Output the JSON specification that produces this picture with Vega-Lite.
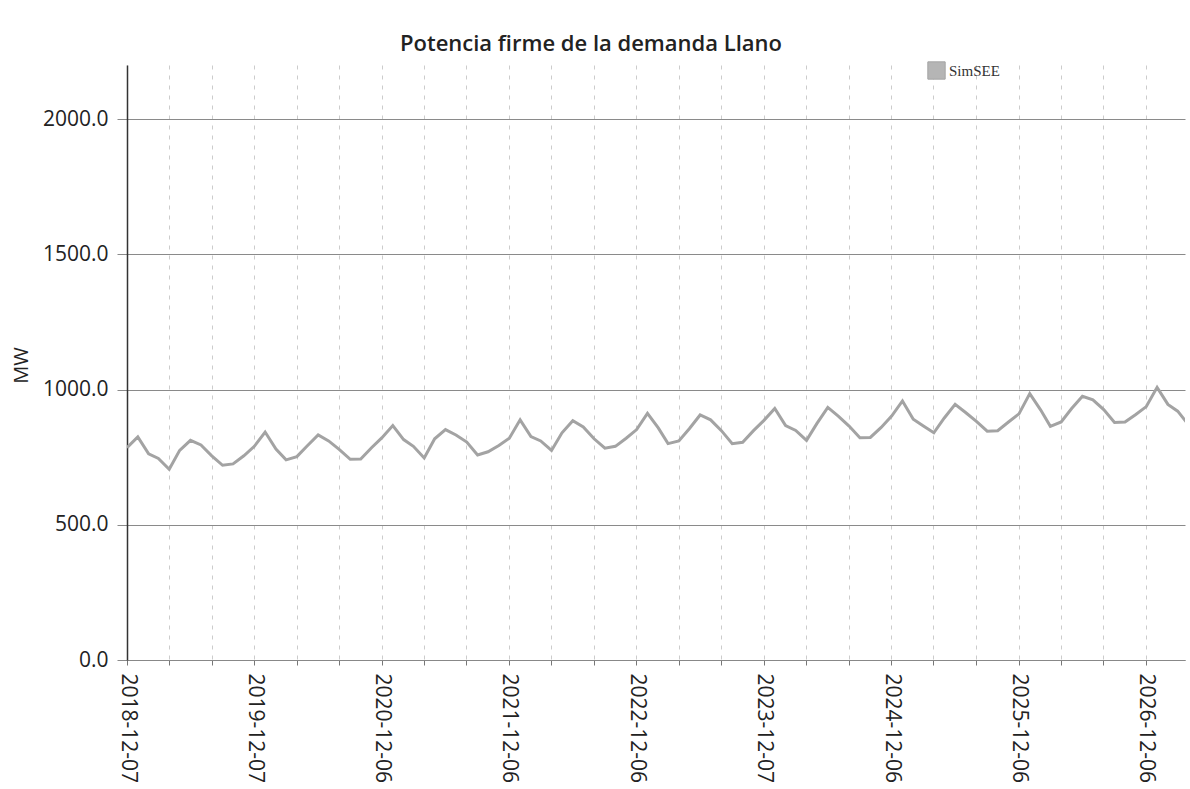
{
  "$schema": "https://vega.github.io/schema/vega-lite/v6.json",
  "autosize": "none",
  "width": 1058,
  "height": 595,
  "padding": {"left": 127, "top": 65, "right": 5, "bottom": 129},
  "background": "white",
  "title": {
    "text": "Potencia firme de la demanda Llano",
    "font": "Open Sans",
    "fontSize": 22,
    "fontWeight": 600,
    "color": "#222222",
    "anchor": "middle",
    "dx": -65,
    "offset": 5
  },
  "config": {
    "view": {"stroke": null},
    "axis": {"labelFont": "Open Sans", "titleFont": "Open Sans", "labelColor": "#222222", "titleColor": "#222222"}
  },
  "data": {
    "values": [
      {"fecha": "2018-12-07", "MW": 785},
      {"fecha": "2019-01-07", "MW": 825},
      {"fecha": "2019-02-07", "MW": 762},
      {"fecha": "2019-03-07", "MW": 745},
      {"fecha": "2019-04-07", "MW": 705},
      {"fecha": "2019-05-07", "MW": 775},
      {"fecha": "2019-06-07", "MW": 812},
      {"fecha": "2019-07-07", "MW": 795},
      {"fecha": "2019-08-07", "MW": 755},
      {"fecha": "2019-09-07", "MW": 720},
      {"fecha": "2019-10-07", "MW": 725},
      {"fecha": "2019-11-07", "MW": 755},
      {"fecha": "2019-12-07", "MW": 790},
      {"fecha": "2020-01-07", "MW": 843},
      {"fecha": "2020-02-07", "MW": 780},
      {"fecha": "2020-03-07", "MW": 740},
      {"fecha": "2020-04-07", "MW": 752},
      {"fecha": "2020-05-07", "MW": 792},
      {"fecha": "2020-06-07", "MW": 832},
      {"fecha": "2020-07-07", "MW": 810},
      {"fecha": "2020-08-07", "MW": 778},
      {"fecha": "2020-09-07", "MW": 742},
      {"fecha": "2020-10-07", "MW": 743},
      {"fecha": "2020-11-07", "MW": 785},
      {"fecha": "2020-12-07", "MW": 822},
      {"fecha": "2021-01-07", "MW": 867},
      {"fecha": "2021-02-07", "MW": 815},
      {"fecha": "2021-03-07", "MW": 790},
      {"fecha": "2021-04-07", "MW": 747},
      {"fecha": "2021-05-07", "MW": 818},
      {"fecha": "2021-06-07", "MW": 852},
      {"fecha": "2021-07-07", "MW": 832},
      {"fecha": "2021-08-07", "MW": 806},
      {"fecha": "2021-09-07", "MW": 758},
      {"fecha": "2021-10-07", "MW": 770},
      {"fecha": "2021-11-07", "MW": 793},
      {"fecha": "2021-12-07", "MW": 820},
      {"fecha": "2022-01-07", "MW": 888},
      {"fecha": "2022-02-07", "MW": 826},
      {"fecha": "2022-03-07", "MW": 810},
      {"fecha": "2022-04-07", "MW": 775},
      {"fecha": "2022-05-07", "MW": 840},
      {"fecha": "2022-06-07", "MW": 885},
      {"fecha": "2022-07-07", "MW": 862},
      {"fecha": "2022-08-07", "MW": 818},
      {"fecha": "2022-09-07", "MW": 783},
      {"fecha": "2022-10-07", "MW": 790},
      {"fecha": "2022-11-07", "MW": 820},
      {"fecha": "2022-12-07", "MW": 852},
      {"fecha": "2023-01-07", "MW": 912},
      {"fecha": "2023-02-07", "MW": 858},
      {"fecha": "2023-03-07", "MW": 800},
      {"fecha": "2023-04-07", "MW": 810},
      {"fecha": "2023-05-07", "MW": 855},
      {"fecha": "2023-06-07", "MW": 906},
      {"fecha": "2023-07-07", "MW": 888},
      {"fecha": "2023-08-07", "MW": 848},
      {"fecha": "2023-09-07", "MW": 800},
      {"fecha": "2023-10-07", "MW": 805},
      {"fecha": "2023-11-07", "MW": 848},
      {"fecha": "2023-12-07", "MW": 886},
      {"fecha": "2024-01-07", "MW": 930},
      {"fecha": "2024-02-07", "MW": 867},
      {"fecha": "2024-03-07", "MW": 849},
      {"fecha": "2024-04-07", "MW": 812},
      {"fecha": "2024-05-07", "MW": 875},
      {"fecha": "2024-06-07", "MW": 934},
      {"fecha": "2024-07-07", "MW": 902},
      {"fecha": "2024-08-07", "MW": 865},
      {"fecha": "2024-09-07", "MW": 822},
      {"fecha": "2024-10-07", "MW": 823},
      {"fecha": "2024-11-07", "MW": 860},
      {"fecha": "2024-12-07", "MW": 902},
      {"fecha": "2025-01-07", "MW": 958},
      {"fecha": "2025-02-07", "MW": 890},
      {"fecha": "2025-03-07", "MW": 866},
      {"fecha": "2025-04-07", "MW": 840},
      {"fecha": "2025-05-07", "MW": 895},
      {"fecha": "2025-06-07", "MW": 945},
      {"fecha": "2025-07-07", "MW": 915},
      {"fecha": "2025-08-07", "MW": 882},
      {"fecha": "2025-09-07", "MW": 846},
      {"fecha": "2025-10-07", "MW": 848},
      {"fecha": "2025-11-07", "MW": 880},
      {"fecha": "2025-12-07", "MW": 910},
      {"fecha": "2026-01-07", "MW": 985},
      {"fecha": "2026-02-07", "MW": 925},
      {"fecha": "2026-03-07", "MW": 864},
      {"fecha": "2026-04-07", "MW": 880},
      {"fecha": "2026-05-07", "MW": 930},
      {"fecha": "2026-06-07", "MW": 975},
      {"fecha": "2026-07-07", "MW": 962},
      {"fecha": "2026-08-07", "MW": 926},
      {"fecha": "2026-09-07", "MW": 878},
      {"fecha": "2026-10-07", "MW": 880},
      {"fecha": "2026-11-07", "MW": 908},
      {"fecha": "2026-12-07", "MW": 937},
      {"fecha": "2027-01-07", "MW": 1008},
      {"fecha": "2027-02-07", "MW": 945},
      {"fecha": "2027-03-07", "MW": 920},
      {"fecha": "2027-04-07", "MW": 870}
    ]
  },
  "mark": {"type": "line", "strokeWidth": 3, "clip": true},
  "encoding": {
    "x": {
      "field": "fecha",
      "type": "temporal",
      "scale": {
        "type": "utc",
        "domain": [
          {"year": 2018, "month": 12, "date": 7, "utc": true},
          {"year": 2027, "month": 3, "date": 28, "utc": true}
        ]
      },
      "axis": {
        "title": null,
        "values": [
          {"year": 2018, "month": 12, "date": 7, "utc": true},
          {"year": 2019, "month": 4, "date": 7, "utc": true},
          {"year": 2019, "month": 8, "date": 7, "utc": true},
          {"year": 2019, "month": 12, "date": 7, "utc": true},
          {"year": 2020, "month": 4, "date": 6, "utc": true},
          {"year": 2020, "month": 8, "date": 6, "utc": true},
          {"year": 2020, "month": 12, "date": 6, "utc": true},
          {"year": 2021, "month": 4, "date": 6, "utc": true},
          {"year": 2021, "month": 8, "date": 6, "utc": true},
          {"year": 2021, "month": 12, "date": 6, "utc": true},
          {"year": 2022, "month": 4, "date": 6, "utc": true},
          {"year": 2022, "month": 8, "date": 6, "utc": true},
          {"year": 2022, "month": 12, "date": 6, "utc": true},
          {"year": 2023, "month": 4, "date": 7, "utc": true},
          {"year": 2023, "month": 8, "date": 7, "utc": true},
          {"year": 2023, "month": 12, "date": 7, "utc": true},
          {"year": 2024, "month": 4, "date": 6, "utc": true},
          {"year": 2024, "month": 8, "date": 6, "utc": true},
          {"year": 2024, "month": 12, "date": 6, "utc": true},
          {"year": 2025, "month": 4, "date": 6, "utc": true},
          {"year": 2025, "month": 8, "date": 6, "utc": true},
          {"year": 2025, "month": 12, "date": 6, "utc": true},
          {"year": 2026, "month": 4, "date": 6, "utc": true},
          {"year": 2026, "month": 8, "date": 6, "utc": true},
          {"year": 2026, "month": 12, "date": 6, "utc": true}
        ],
        "labelExpr": "utcmonth(datum.value) == 11 ? utcFormat(datum.value, '%Y-%m-%d') : ''",
        "labelAngle": 90,
        "labelAlign": "left",
        "labelBaseline": "middle",
        "labelFontSize": 21,
        "labelPadding": 8,
        "labelOverlap": false,
        "labelFlush": false,
        "tickSize": 5,
        "tickColor": "#777777",
        "domainColor": "#888888",
        "grid": true,
        "gridColor": "#cccccc",
        "gridDash": [4, 6],
        "gridWidth": 1
      }
    },
    "y": {
      "field": "MW",
      "type": "quantitative",
      "scale": {"domain": [0, 2200], "nice": false, "zero": true},
      "axis": {
        "title": "MW",
        "titleFontSize": 20,
        "titleFontWeight": "normal",
        "titleX": -106,
        "titleY": 300,
        "titleAngle": -90,
        "titleAlign": "center",
        "titleBaseline": "middle",
        "values": [0, 500, 1000, 1500, 2000],
        "format": ".1f",
        "labelFontSize": 21,
        "labelPadding": 9,
        "tickSize": 10,
        "tickColor": "#8a8a8a",
        "domainColor": "#333333",
        "domainWidth": 1.5,
        "grid": true,
        "gridColor": "#8a8a8a",
        "gridWidth": 1
      }
    },
    "color": {
      "datum": "SimSEE",
      "type": "nominal",
      "scale": {"domain": ["SimSEE"], "range": ["#a3a3a3"]},
      "legend": {
        "title": null,
        "orient": "none",
        "legendX": 800,
        "legendY": -4,
        "symbolType": "square",
        "symbolSize": 300,
        "symbolFillColor": "#b5b5b5",
        "symbolStrokeColor": "#8a8a8a",
        "symbolStrokeWidth": 1,
        "labelFont": "Liberation Serif",
        "labelFontSize": 15,
        "labelColor": "#333333",
        "labelOffset": 3
      }
    }
  }
}
